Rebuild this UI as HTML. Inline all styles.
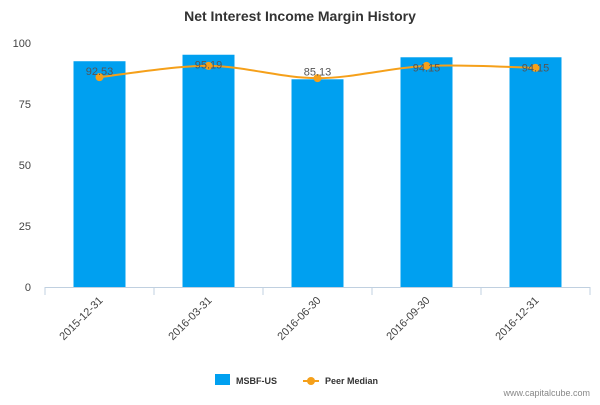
<!DOCTYPE html>
<html><head><meta charset="utf-8"><style>
body{margin:0;background:#fff;font-family:"Liberation Sans","DejaVu Sans",sans-serif}
</style></head><body>
<svg id="c" width="600" height="400" xmlns="http://www.w3.org/2000/svg">
<text x="300" y="21" text-anchor="middle" font-size="14" font-weight="bold" fill="#333">Net Interest Income Margin History</text>
<g id="grid"></g><g id="bars"></g><g id="line"></g><g id="labels"></g>
<g>
<rect x="215" y="374" width="15" height="11" fill="#00a0f0"/>
<text x="236" y="384" font-size="9" font-weight="bold" fill="#333">MSBF-US</text>
<line x1="303" y1="381" x2="319" y2="381" stroke="#f5a01a" stroke-width="2"/>
<circle cx="311" cy="381" r="4" fill="#f5a01a"/>
<text x="325" y="384" font-size="9" font-weight="bold" fill="#333">Peer Median</text>
</g>
<text x="590" y="396" text-anchor="end" font-size="9" fill="#888">www.capitalcube.com</text>
</svg>
<script>
const categories=["2015-12-31","2016-03-31","2016-06-30","2016-09-30","2016-12-31"];
const barValues=[92.53,95.19,85.13,94.15,94.15];
const barLabels=["92.53","95.19","85.13","94.15","94.15"];
const peerValues=[86,90.6,85.6,90.6,89.8];
const yTicks=[0,25,50,75,100];
const NS="http://www.w3.org/2000/svg";
const x0=45,x1=590,yb=287,yt=43;
const band=(x1-x0)/categories.length;
const xc=i=>x0+band*(i+0.5);
const y=v=>yb-(v/100)*(yb-yt);
function mk(t,a,p){const e=document.createElementNS(NS,t);for(const k in a)e.setAttribute(k,a[k]);p.appendChild(e);return e;}
const g=document.getElementById('grid');
yTicks.forEach(t=>{
 const tx=mk('text',{x:31,y:y(t)+4,'text-anchor':'end','font-size':11,fill:'#444'},g);
 
 
 tx.textContent=t;
});
const ax=mk('line',{x1:x0,x2:x1,y1:yb+0.5,y2:yb+0.5,stroke:'#c0d0e0'},g);


for(let i=0;i<=categories.length;i++){
 const tk=mk('line',{x1:x0+band*i,x2:x0+band*i,y1:yb,y2:yb+8,stroke:'#c0d0e0'},g);
 
 
}
categories.forEach((c,i)=>{
 const tx=mk('text',{x:xc(i)+4,y:yb+14,'text-anchor':'end','font-size':11,fill:'#444',transform:`rotate(-45 ${xc(i)+4} ${yb+14})`},g);
 
 
 tx.textContent=c;
});
const bw=52,b=document.getElementById('bars');
barValues.forEach((v,i)=>{
 const r=mk('rect',{x:xc(i)-bw/2,y:y(v),width:bw,height:yb-y(v),fill:'#00a0f0'},b);
 
 
});
const L=document.getElementById('line');
const pts=peerValues.map((v,i)=>[xc(i),y(v)]);
let d=`M${pts[0][0]},${pts[0][1]}`;
for(let i=0;i<pts.length-1;i++){
 const p0=pts[i-1]||pts[i],p1=pts[i],p2=pts[i+1],p3=pts[i+2]||p2;
 const c1=[p1[0]+(p2[0]-p0[0])/6,p1[1]+(p2[1]-p0[1])/6],c2=[p2[0]-(p3[0]-p1[0])/6,p2[1]-(p3[1]-p1[1])/6];
 d+=` C${c1[0]},${c1[1]} ${c2[0]},${c2[1]} ${p2[0]},${p2[1]}`;
}
const pl=mk('path',{d:d,fill:'none',stroke:'#f5a01a','stroke-width':2},L);


pts.forEach((p,i)=>{
 const c=mk('circle',{cx:p[0],cy:p[1],r:4,fill:'#f5a01a'},L);
 
 
});
const lb=document.getElementById('labels');
barValues.forEach((v,i)=>{
 const tx=mk('text',{x:xc(i),y:y(v)+14,'text-anchor':'middle','font-size':11,fill:'#555'},lb);
 if(i===2)tx.setAttribute('y',y(v)-4);
 
 
 tx.textContent=barLabels[i];
});
</script>
</body></html>
